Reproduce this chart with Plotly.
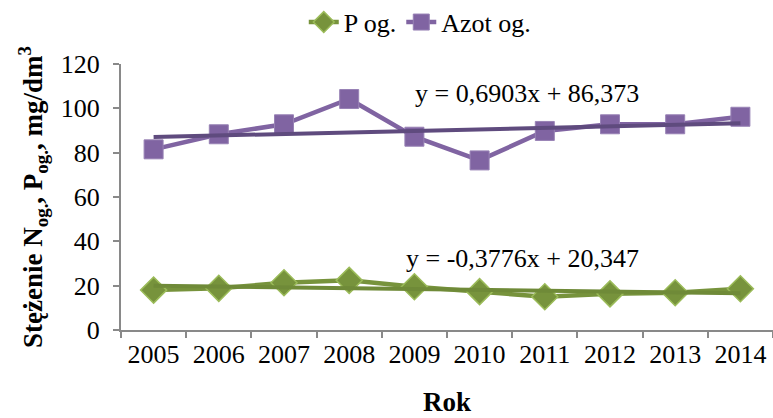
import plotly.graph_objects as go

years = ["2005", "2006", "2007", "2008", "2009", "2010", "2011", "2012", "2013", "2014"]
p_og = [18.0, 18.8, 21.3, 22.4, 19.5, 17.3, 15.0, 16.3, 16.8, 18.6]
azot_og = [81.5, 88.3, 92.8, 104.2, 87.2, 76.5, 89.8, 92.8, 92.8, 96.2]

# trendline coefficients as printed on the chart (x = 1..10)
azot_slope, azot_icpt = 0.6903, 86.373
p_slope, p_icpt = -0.3776, 20.347

azot_trend = [azot_slope * (i + 1) + azot_icpt for i in range(len(years))]
p_trend = [p_slope * (i + 1) + p_icpt for i in range(len(years))]

FONT = "Liberation Serif, Times New Roman, serif"
GREEN = "#77933C"
GREEN_EDGE = "#9BBB59"
PURPLE = "#8064A2"
PURPLE_DARK = "#5F4B7E"
GREEN_TREND = "#6F8A38"
AXIS = "#898989"

fig = go.Figure()
fig.add_trace(go.Scatter(
    x=years, y=p_og, name="P og.", mode="lines+markers",
    line=dict(color=GREEN, width=4.5),
    marker=dict(symbol="diamond", size=20, color=GREEN, line=dict(color=GREEN_EDGE, width=1.5)),
))
fig.add_trace(go.Scatter(
    x=years, y=azot_og, name="Azot og.", mode="lines+markers",
    line=dict(color=PURPLE, width=4.5),
    marker=dict(symbol="square", size=19, color=PURPLE, line=dict(color="#9882B5", width=1)),
))
fig.add_trace(go.Scatter(
    x=years, y=p_trend, mode="lines", showlegend=False,
    line=dict(color=GREEN_TREND, width=4),
))
fig.add_trace(go.Scatter(
    x=years, y=azot_trend, mode="lines", showlegend=False,
    line=dict(color=PURPLE_DARK, width=4),
))

fig.add_annotation(x=7.47, y=106.5, xref="x", yref="y", text="y = 0,6903x + 86,373",
                   showarrow=False, xanchor="right", yanchor="middle",
                   font=dict(family=FONT, size=26, color="black"))
fig.add_annotation(x=7.47, y=32.3, xref="x", yref="y", text="y = -0,3776x + 20,347",
                   showarrow=False, xanchor="right", yanchor="middle",
                   font=dict(family=FONT, size=26, color="black"))

fig.update_layout(
    width=773, height=418,
    margin=dict(l=121, r=0, t=64, b=88),
    paper_bgcolor="white", plot_bgcolor="white",
    font=dict(family=FONT, size=26, color="black"),
    showlegend=True,
    legend=dict(orientation="h", x=0.459, xanchor="center", y=0.947, yanchor="middle",
                yref="container",
                font=dict(family=FONT, size=26, color="black"),
                tracegroupgap=0, bgcolor="rgba(0,0,0,0)"),
    xaxis=dict(
        type="category", range=[-0.5, 9.5], showgrid=False,
        showline=True, linecolor=AXIS, linewidth=2,
        ticks="outside", tickson="boundaries", ticklen=6, tickcolor=AXIS, tickwidth=2,
        tickfont=dict(family=FONT, size=26, color="black"),
        title=dict(text="<b>Rok</b>", font=dict(family=FONT, size=27, color="black"), standoff=24),
        zeroline=False,
    ),
    yaxis=dict(
        range=[0, 120], dtick=20, showgrid=False,
        showline=True, linecolor=AXIS, linewidth=2,
        ticks="outside", ticklen=6, tickcolor=AXIS, tickwidth=2, ticklabelstandoff=8,
        tickfont=dict(family=FONT, size=26, color="black"),
        title=dict(text="<b>Stężenie N<sub>og.</sub>, P<sub>og.</sub>, mg/dm<sup>3</sup></b>",
                   font=dict(family=FONT, size=27, color="black"), standoff=10),
        zeroline=False,
    ),
)

fig.write_html("out.html")
